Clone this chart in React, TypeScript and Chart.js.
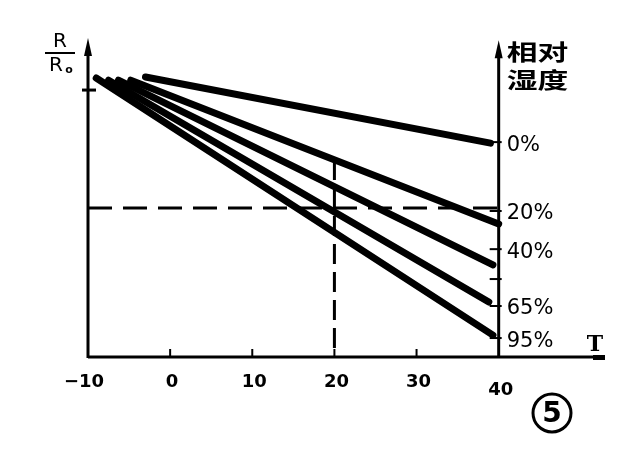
import React, { useEffect, useRef } from "react";
import { Chart, registerables } from "chart.js";

Chart.register(...registerables);

// Data (T in °C, R/R0 relative resistance)
const T_TICKS = [-10, 0, 10, 20, 30, 40];
const HUMIDITY = ["0%", "20%", "40%", "65%", "95%"];
const T_START = [-3.0, -4.8, -6.3, -7.5, -9.0];
const T_END = [39.0, 40.0, 39.3, 38.8, 39.3];
const R_START = [1.049, 1.037, 1.037, 1.037, 1.045];
const R_END = [0.801, 0.498, 0.345, 0.206, 0.082];
const HUMIDITY_TICK_R = [0.805, 0.547, 0.404, 0.191, 0.071];
const EXTRA_TICK_R = [0.292];
const R_UNIT = 1.0;
const REF_T = 20;
const REF_R = 0.558;
const REF_T_TOP = 0.738;

const T_MIN = -10;
const T_MAX = 40;
const T_AXIS_END = 52.7;
const R_AXIS_TOP = 1.195;
const RIGHT_AXIS_TOP = 1.187;

const overlay = {
  id: "overlay",
  afterDatasetsDraw(chart: any) {
    const ctx = chart.ctx;
    const xs = chart.scales.x;
    const ys = chart.scales.y;
    const px = (v: number) => xs.getPixelForValue(v);
    const py = (v: number) => ys.getPixelForValue(v);
    ctx.save();
    ctx.strokeStyle = "#000";
    ctx.fillStyle = "#000";
    ctx.lineCap = "butt";

    const x0 = px(T_MIN);
    const x40 = px(T_MAX);
    const y0 = py(0);

    // bottom axis
    ctx.lineWidth = 3;
    ctx.beginPath();
    ctx.moveTo(x0, y0);
    ctx.lineTo(px(T_AXIS_END) + 2, y0);
    ctx.stroke();
    ctx.fillRect(px(T_AXIS_END) - 10, y0 - 2, 12, 5);

    // left axis
    ctx.beginPath();
    ctx.moveTo(x0, y0 + 1);
    ctx.lineTo(x0, py(R_AXIS_TOP) + 10);
    ctx.stroke();
    ctx.beginPath();
    ctx.moveTo(x0, py(R_AXIS_TOP));
    ctx.lineTo(x0 - 4, py(R_AXIS_TOP) + 18);
    ctx.lineTo(x0 + 4, py(R_AXIS_TOP) + 18);
    ctx.closePath();
    ctx.fill();

    // right axis
    ctx.beginPath();
    ctx.moveTo(x40, y0 + 1);
    ctx.lineTo(x40, py(RIGHT_AXIS_TOP) + 10);
    ctx.stroke();
    ctx.beginPath();
    ctx.moveTo(x40, py(RIGHT_AXIS_TOP));
    ctx.lineTo(x40 - 4, py(RIGHT_AXIS_TOP) + 18);
    ctx.lineTo(x40 + 4, py(RIGHT_AXIS_TOP) + 18);
    ctx.closePath();
    ctx.fill();

    // left axis tick at R/R0 = 1
    ctx.lineWidth = 3;
    ctx.beginPath();
    ctx.moveTo(x0 - 6, py(R_UNIT));
    ctx.lineTo(x0 + 8, py(R_UNIT));
    ctx.stroke();

    // x ticks
    ctx.lineWidth = 2;
    T_TICKS.forEach((t) => {
      if (t === T_MIN || t === T_MAX) return;
      ctx.beginPath();
      ctx.moveTo(px(t), y0);
      ctx.lineTo(px(t), y0 - 8);
      ctx.stroke();
    });

    // right axis ticks
    ctx.lineWidth = 2;
    [...HUMIDITY_TICK_R, ...EXTRA_TICK_R].forEach((r) => {
      ctx.beginPath();
      ctx.moveTo(x40 - 9, py(r));
      ctx.lineTo(x40 + 3, py(r));
      ctx.stroke();
    });

    // x tick labels
    ctx.font = "bold 18px 'DejaVu Sans', sans-serif";
    ctx.textAlign = "center";
    ctx.textBaseline = "middle";
    T_TICKS.forEach((t, i) => {
      const label = t < 0 ? "\u2212" + Math.abs(t) : String(t);
      const dy = i === T_TICKS.length - 1 ? 8 : 0;
      ctx.fillText(label, px(t) + (t < 0 ? -4 : 2), y0 + 25 + dy);
    });

    // humidity labels
    ctx.font = "21px 'DejaVu Sans', sans-serif";
    ctx.textAlign = "left";
    HUMIDITY.forEach((h, i) => {
      ctx.fillText(h, x40 + 8, py(HUMIDITY_TICK_R[i]) + 3);
    });

    // T label
    ctx.font = "bold 22px 'DejaVu Serif', serif";
    ctx.textAlign = "center";
    ctx.fillText("T", px(T_AXIS_END) - 8, y0 - 12);

    // R/R0 label
    ctx.font = "20px 'DejaVu Sans', sans-serif";
    ctx.fillText("R", 60, 42);
    ctx.lineWidth = 2;
    ctx.beginPath();
    ctx.moveTo(45, 53);
    ctx.lineTo(75, 53);
    ctx.stroke();
    ctx.fillText("R", 56, 66);
    ctx.font = "bold 11px 'DejaVu Sans', sans-serif";
    ctx.fillText("o", 69, 70);

    // Chinese header (wide, bold)
    ctx.font = "bold 22px 'Noto Sans CJK SC', sans-serif";
    ctx.textAlign = "left";
    ctx.save();
    ctx.translate(x40 + 8, 0);
    ctx.scale(1.4, 1);
    ctx.fillText("相对", 0, 52);
    ctx.fillText("湿度", 0, 80);
    ctx.restore();

    // circled number
    ctx.lineWidth = 3;
    ctx.beginPath();
    ctx.arc(552, 413, 19, 0, Math.PI * 2);
    ctx.stroke();
    ctx.font = "bold 28px 'DejaVu Sans', sans-serif";
    ctx.textAlign = "center";
    ctx.fillText("5", 552, 415);

    ctx.restore();
  },
};

export default function App() {
  const ref = useRef<HTMLCanvasElement | null>(null);
  useEffect(() => {
    if (!ref.current) return;
    const lines = HUMIDITY.map((h, i) => ({
      label: h,
      data: [
        { x: T_START[i], y: R_START[i] },
        { x: T_END[i], y: R_END[i] },
      ],
      borderColor: "#000",
      borderWidth: 7,
      borderCapStyle: "round" as const,
      pointRadius: 0,
      fill: false,
    }));
    const dashed = [
      {
        label: "refH",
        data: [
          { x: T_MIN, y: REF_R },
          { x: T_MAX, y: REF_R },
        ],
        borderColor: "#000",
        borderWidth: 3,
        borderDash: [24, 11],
        pointRadius: 0,
        fill: false,
      },
      {
        label: "refV",
        data: [
          { x: REF_T, y: REF_T_TOP },
          { x: REF_T, y: 0 },
        ],
        borderColor: "#000",
        borderWidth: 3,
        borderDash: [20, 8],
        pointRadius: 0,
        fill: false,
      },
    ];
    const chart = new Chart(ref.current, {
      type: "line",
      data: { datasets: [...dashed, ...lines] as any },
      options: {
        responsive: false,
        animation: false,
        layout: { padding: { left: 88, right: 32, top: 38, bottom: 102 } },
        plugins: { legend: { display: false }, tooltip: { enabled: false } },
        scales: {
          x: { type: "linear", min: T_MIN, max: T_AXIS_END, display: false },
          y: { type: "linear", min: 0, max: R_AXIS_TOP, display: false },
        },
      },
      plugins: [overlay],
    });
    return () => chart.destroy();
  }, []);
  return (
    <div style={{ position: "fixed", left: 0, top: 0, width: 635, height: 459, background: "#fff" }}>
      <canvas ref={ref} width={635} height={459} />
    </div>
  );
}
